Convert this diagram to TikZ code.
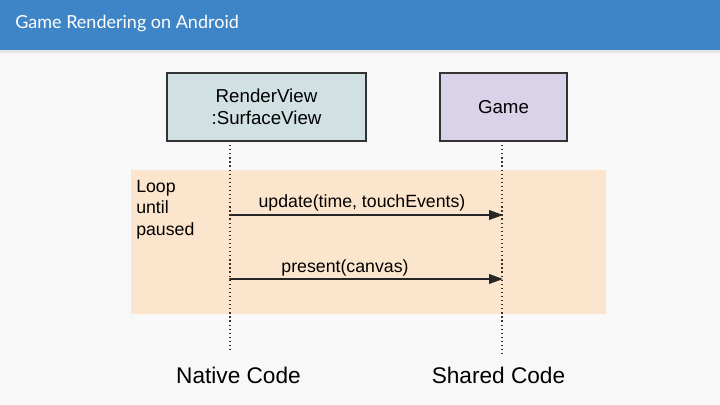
\documentclass[tikz,border=0pt]{standalone}
\usepackage{fontspec}
\setmainfont{Liberation Sans}
\newfontfamily\titlefont{Lato}
\usetikzlibrary{arrows.meta,positioning}
\definecolor{barblue}{HTML}{3D85C6}
\definecolor{pagegray}{HTML}{F8F8F8}
\definecolor{viewfill}{HTML}{D0E0E3}
\definecolor{gamefill}{HTML}{D9D2E9}
\definecolor{loopfill}{HTML}{FCE5CD}
\definecolor{linegray}{HTML}{333333}
\tikzset{
  objbox/.style={draw=linegray, line width=0.8pt, align=center, inner sep=0pt, minimum height=1.7cm, font=\fontsize{13.3}{16}\selectfont},
  lifeline/.style={draw=linegray, line width=0.9pt, dotted},
  callarrow/.style={-{Triangle[length=3.5mm,width=2.4mm]}, line width=1.4pt, draw=black!85},
  calllabel/.style={font=\fontsize{12.6}{14}\selectfont, inner sep=0pt, anchor=base},
  looplabel/.style={font=\fontsize{12.6}{15.3}\selectfont, align=left, anchor=north west, inner sep=0pt},
  sidelabel/.style={font=\fontsize{16.1}{19}\selectfont, inner sep=0pt, anchor=base}
}
\begin{document}
\begin{tikzpicture}[x=0.025cm,y=-0.025cm]
\useasboundingbox (0,0) rectangle (720,405);
% page and title bar
\fill[pagegray] (0,0) rectangle (720,405);
\fill[black!10] (0,50) rectangle (720,53);
\fill[barblue] (0,0) rectangle (720,50);
\node[anchor=west, inner sep=0pt, text=white, font=\titlefont\fontsize{12.8}{15}\selectfont] (title) at (15,24) {Game Rendering on Android};

% loop region
\fill[loopfill] (131,170) rectangle (606,314);
\node[looplabel] (loop) at (136,180) {Loop\\until\\paused};

% objects
\node[objbox, fill=viewfill, minimum width=4.975cm] (view) at (266.5,107) {RenderView\\:SurfaceView};
\node[objbox, fill=gamefill, minimum width=3.175cm] (game) at (503.5,107) {Game};

% lifelines
\coordinate (viewtop) at (230,141);
\coordinate (viewend) at (230,352);
\coordinate (gametop) at (502,141);
\coordinate (gameend) at (502,355);
\draw[lifeline] (viewtop) -- (viewend);
\draw[lifeline] (gametop) -- (gameend);

% calls
\coordinate (upd1) at (230,215);
\coordinate (upd2) at (503,215);
\coordinate (pre1) at (230,279);
\coordinate (pre2) at (503,279);
\draw[callarrow] (upd1) -- (upd2);
\draw[callarrow] (pre1) -- (pre2);
\fill[black!85] (pre1) circle (1.2);
\node[calllabel] (updlabel) at (362,208) {update(time, touchEvents)};
\node[calllabel] (prelabel) at (345,272) {present(canvas)};

% sides
\node[sidelabel] (native) at (238.5,383) {Native Code};
\node[sidelabel] (shared) at (498.5,383) {Shared Code};
\end{tikzpicture}
\end{document}
